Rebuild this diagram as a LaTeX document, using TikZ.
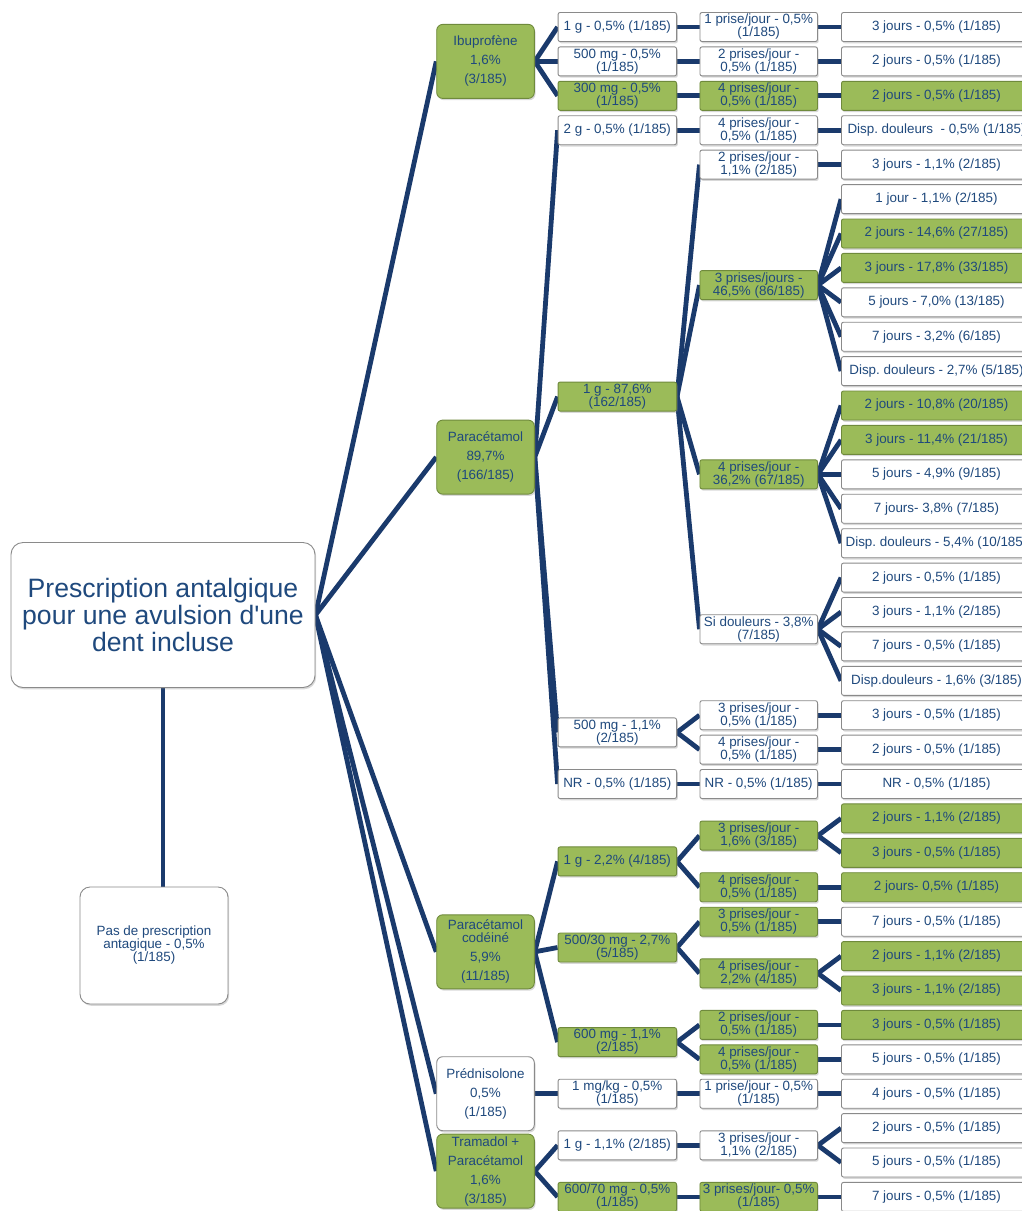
\documentclass[tikz,border=0pt]{standalone}
\usepackage{fontspec}
\setmainfont{Liberation Sans}
\usetikzlibrary{shadows,backgrounds}
\definecolor{txt}{HTML}{1F497D}
\definecolor{lnk}{HTML}{1A3A6C}
\definecolor{grn}{HTML}{9BBB59}
\definecolor{grnb}{HTML}{6F8A3C}
\definecolor{gryb}{HTML}{8A8A8A}
\newcommand\fsm{\fontsize{13.4}{13}\selectfont}
\newcommand\fsl{\fontsize{13.4}{19}\selectfont}
\newcommand\fsr{\fontsize{26.6}{27}\selectfont}
\frenchspacing
\begin{document}
\begin{tikzpicture}[x=1pt,y=-1pt,
  bx/.style={draw=gryb, line width=0.9pt, fill=white, text=txt, font=\fsm, align=center,
    inner sep=0pt, rounded corners=2pt, minimum height=29pt,
    drop shadow={shadow xshift=1.2pt, shadow yshift=-1.8pt, opacity=0.3}},
  gr/.style={fill=grn, draw=grnb},
  l2/.style={bx, minimum width=118.5pt},
  l3/.style={bx, minimum width=117.5pt},
  l4/.style={bx, minimum width=190pt},
  l1/.style={bx, font=\fsl, minimum width=97.6pt, minimum height=74pt, rounded corners=6pt},
  link/.style={draw=lnk, line width=4.8pt}]
\useasboundingbox (0,0) rectangle (1022,1211);

% root
\node[bx, font=\fsr, rounded corners=12pt, minimum width=304pt, minimum height=145pt] (root) at (163,615) {Prescription antalgique\\pour une avulsion d\textquotesingle une\\dent incluse};
\node[bx, rounded corners=10pt, minimum width=148pt, minimum height=117pt] (pas) at (154,945.5) {Pas de prescription\\antagique - 0,5\%\\(1/185)};

% level 1
\node[l1,gr] (ibu) at (485.5,61.4) {Ibuprofène\\1,6\%\\(3/185)};
\node[l1,gr] (para) at (485.5,457.1) {Paracétamol\\89,7\%\\(166/185)};
\node[l1,gr] (cod) at (485.5,951.8) {Paracétamol\\[-6pt]codéiné\\5,9\%\\(11/185)};
\node[l1] (pred) at (485.5,1093.7) {Prédnisolone\\0,5\%\\(1/185)};
\node[l1,gr] (tram) at (485.5,1171.1) {Tramadol +\\Paracétamol\\1,6\%\\(3/185)};

% level 2
\node[l2] (a1) at (617.3,27) {1 g - 0,5\% (1/185)};
\node[l2] (a2) at (617.3,61.4) {500 mg - 0,5\%\\(1/185)};
\node[l2,gr] (a3) at (617.3,95.8) {300 mg - 0,5\%\\(1/185)};
\node[l2] (b1) at (617.3,130.2) {2 g - 0,5\% (1/185)};
\node[l2,gr] (b2) at (617.3,396.6) {1 g - 87,6\%\\(162/185)};
\node[l2] (b3) at (617.3,732.4) {500 mg - 1,1\%\\(2/185)};
\node[l2] (b4) at (617.3,784) {NR - 0,5\% (1/185)};
\node[l2,gr] (c1) at (617.3,861.4) {1 g - 2,2\% (4/185)};
\node[l2,gr] (c2) at (617.3,947.5) {500/30 mg - 2,7\%\\(5/185)};
\node[l2,gr] (c3) at (617.3,1042.1) {600 mg - 1,1\%\\(2/185)};
\node[l2] (d1) at (617.3,1093.7) {1 mg/kg - 0,5\%\\(1/185)};
\node[l2] (e1) at (617.3,1145.3) {1 g - 1,1\% (2/185)};
\node[l2,gr] (e2) at (617.3,1196.9) {600/70 mg - 0,5\%\\(1/185)};

% level 3
\node[l3] (a1p) at (758.7,27) {1 prise/jour - 0,5\%\\(1/185)};
\node[l3] (a2p) at (758.7,61.4) {2 prises/jour -\\0,5\% (1/185)};
\node[l3,gr] (a3p) at (758.7,95.8) {4 prises/jour -\\0,5\% (1/185)};
\node[l3] (b1p) at (758.7,130.2) {4 prises/jour -\\0,5\% (1/185)};
\node[l3] (b2p) at (758.7,164.6) {2 prises/jour -\\1,1\% (2/185)};
\node[l3,gr] (b2q) at (758.7,285.1) {3 prises/jours -\\46,5\% (86/185)};
\node[l3,gr] (b2r) at (758.7,474.3) {4 prises/jour -\\36,2\% (67/185)};
\node[l3] (b2s) at (758.7,629.2) {Si douleurs - 3,8\%\\(7/185)};
\node[l3] (b3p) at (758.7,715.2) {3 prises/jour -\\0,5\% (1/185)};
\node[l3] (b3q) at (758.7,749.6) {4 prises/jour -\\0,5\% (1/185)};
\node[l3] (b4p) at (758.7,784) {NR - 0,5\% (1/185)};
\node[l3,gr] (c1p) at (758.7,835.6) {3 prises/jour -\\1,6\% (3/185)};
\node[l3,gr] (c1q) at (758.7,887.2) {4 prises/jour -\\0,5\% (1/185)};
\node[l3,gr] (c2p) at (758.7,921.7) {3 prises/jour -\\0,5\% (1/185)};
\node[l3,gr] (c2q) at (758.7,973.3) {4 prises/jour -\\2,2\% (4/185)};
\node[l3,gr] (c3p) at (758.7,1024.9) {2 prises/jour -\\0,5\% (1/185)};
\node[l3,gr] (c3q) at (758.7,1059.3) {4 prises/jour -\\0,5\% (1/185)};
\node[l3] (d1p) at (758.7,1093.7) {1 prise/jour - 0,5\%\\(1/185)};
\node[l3] (e1p) at (758.7,1145.3) {3 prises/jour -\\1,1\% (2/185)};
\node[l3,gr] (e2p) at (758.7,1196.9) {3 prises/jour- 0,5\%\\(1/185)};

% level 4
\node[l4] (n1) at (936.5,27) {3 jours - 0,5\% (1/185)};
\node[l4] (n2) at (936.5,61.4) {2 jours - 0,5\% (1/185)};
\node[l4,gr] (n3) at (936.5,95.8) {2 jours - 0,5\% (1/185)};
\node[l4] (n4) at (936.5,130.2) {Disp. douleurs~ - 0,5\% (1/185)};
\node[l4] (n5) at (936.5,164.6) {3 jours - 1,1\% (2/185)};
\node[l4] (n6) at (936.5,199.1) {1 jour - 1,1\% (2/185)};
\node[l4,gr] (n7) at (936.5,233.5) {2 jours - 14,6\% (27/185)};
\node[l4,gr] (n8) at (936.5,267.9) {3 jours - 17,8\% (33/185)};
\node[l4] (n9) at (936.5,302.3) {5 jours - 7,0\% (13/185)};
\node[l4] (n10) at (936.5,336.7) {7 jours - 3,2\% (6/185)};
\node[l4] (n11) at (936.5,371.1) {Disp. douleurs - 2,7\% (5/185)};
\node[l4,gr] (n12) at (936.5,405.5) {2 jours - 10,8\% (20/185)};
\node[l4,gr] (n13) at (936.5,439.9) {3 jours - 11,4\% (21/185)};
\node[l4] (n14) at (936.5,474.3) {5 jours - 4,9\% (9/185)};
\node[l4] (n15) at (936.5,508.7) {7 jours- 3,8\% (7/185)};
\node[l4] (n16) at (936.5,543.2) {Disp. douleurs - 5,4\% (10/185)};
\node[l4] (n17) at (936.5,577.6) {2 jours - 0,5\% (1/185)};
\node[l4] (n18) at (936.5,612.0) {3 jours - 1,1\% (2/185)};
\node[l4] (n19) at (936.5,646.4) {7 jours - 0,5\% (1/185)};
\node[l4] (n20) at (936.5,680.8) {Disp.douleurs - 1,6\% (3/185)};
\node[l4] (n21) at (936.5,715.2) {3 jours - 0,5\% (1/185)};
\node[l4] (n22) at (936.5,749.6) {2 jours - 0,5\% (1/185)};
\node[l4] (n23) at (936.5,784.0) {NR - 0,5\% (1/185)};
\node[l4,gr] (n24) at (936.5,818.4) {2 jours - 1,1\% (2/185)};
\node[l4,gr] (n25) at (936.5,852.8) {3 jours - 0,5\% (1/185)};
\node[l4,gr] (n26) at (936.5,887.2) {2 jours- 0,5\% (1/185)};
\node[l4] (n27) at (936.5,921.7) {7 jours - 0,5\% (1/185)};
\node[l4,gr] (n28) at (936.5,956.1) {2 jours - 1,1\% (2/185)};
\node[l4,gr] (n29) at (936.5,990.5) {3 jours - 1,1\% (2/185)};
\node[l4,gr] (n30) at (936.5,1024.9) {3 jours - 0,5\% (1/185)};
\node[l4] (n31) at (936.5,1059.3) {5 jours - 0,5\% (1/185)};
\node[l4] (n32) at (936.5,1093.7) {4 jours - 0,5\% (1/185)};
\node[l4] (n33) at (936.5,1128.1) {2 jours - 0,5\% (1/185)};
\node[l4] (n34) at (936.5,1162.5) {5 jours - 0,5\% (1/185)};
\node[l4] (n35) at (936.5,1196.9) {7 jours - 0,5\% (1/185)};

\begin{pgfonlayer}{background}
\fill[white] (0,0) rectangle (1022,1211);
\draw[link] (root.south) -- (root.south |- pas.north);
\foreach \p/\c in {root/ibu,root/para,root/cod,root/pred,root/tram,
  ibu/a1,ibu/a2,ibu/a3,para/b1,para/b2,para/b3,para/b4,cod/c1,cod/c2,cod/c3,
  pred/d1,tram/e1,tram/e2,
  a1/a1p,a2/a2p,a3/a3p,b1/b1p,b2/b2p,b2/b2q,b2/b2r,b2/b2s,b3/b3p,b3/b3q,b4/b4p,
  c1/c1p,c1/c1q,c2/c2p,c2/c2q,c3/c3p,c3/c3q,d1/d1p,e1/e1p,e2/e2p,
  a1p/n1,a2p/n2,a3p/n3,b1p/n4,b2p/n5,
  b2q/n6,b2q/n7,b2q/n8,b2q/n9,b2q/n10,b2q/n11,
  b2r/n12,b2r/n13,b2r/n14,b2r/n15,b2r/n16,
  b2s/n17,b2s/n18,b2s/n19,b2s/n20,
  b3p/n21,b3q/n22,b4p/n23,c1p/n24,c1p/n25,c1q/n26,c2p/n27,c2q/n28,c2q/n29,
  c3p/n30,c3q/n31,d1p/n32,e1p/n33,e1p/n34,e2p/n35}
  \draw[link] (\p.east) -- (\c.west);
\end{pgfonlayer}
\end{tikzpicture}
\end{document}
